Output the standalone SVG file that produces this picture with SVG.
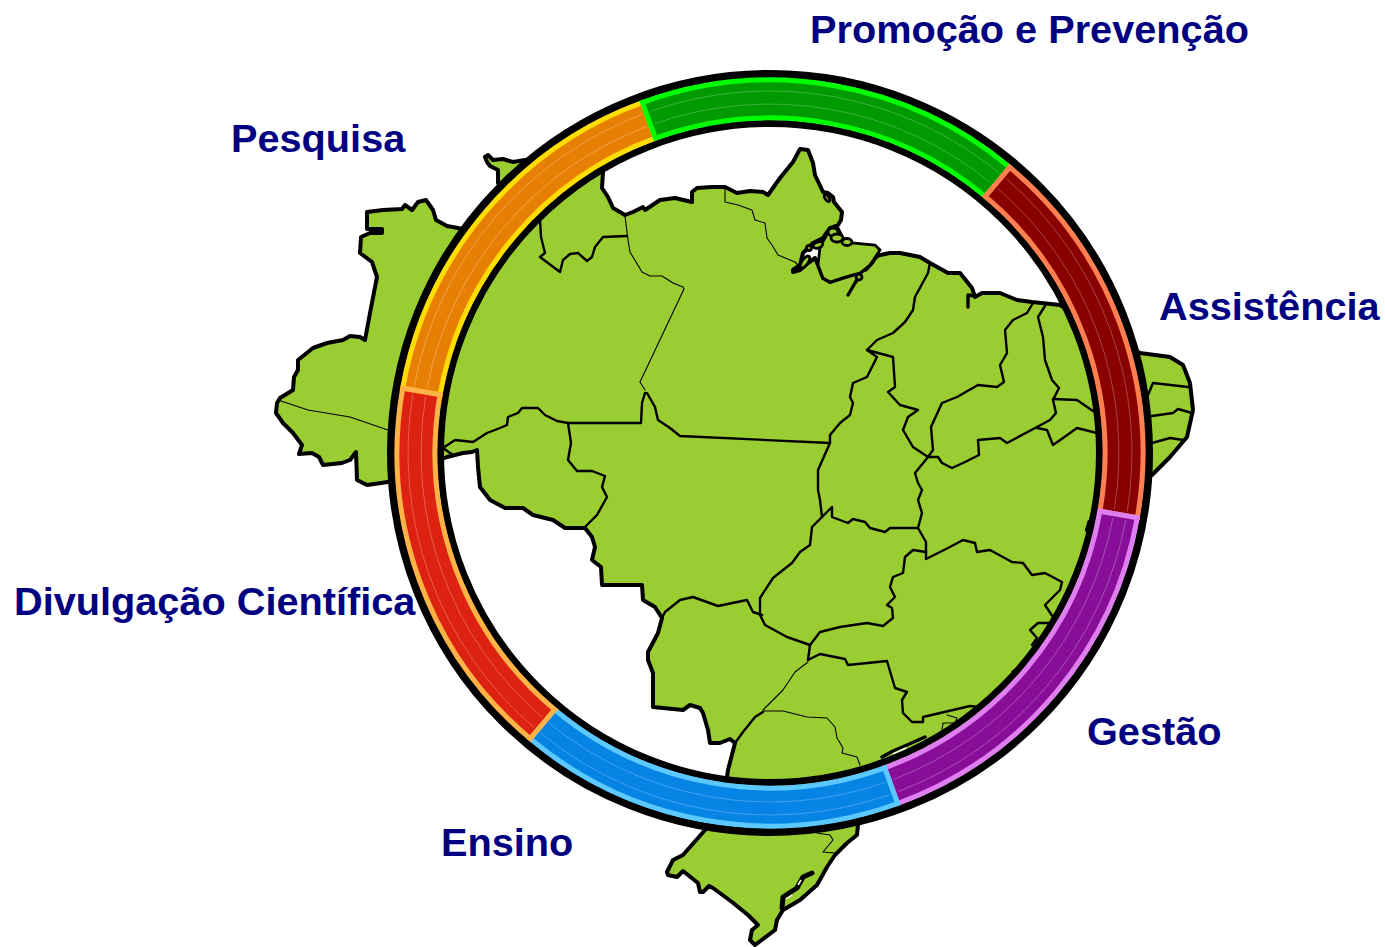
<svg xmlns="http://www.w3.org/2000/svg" xmlns:xlink="http://www.w3.org/1999/xlink" width="1385" height="947" viewBox="0 0 1385 947">
<style>
.land{fill:#9acd32;stroke:#000;stroke-width:4;stroke-linejoin:round;stroke-linecap:round}
.isl{fill:#9acd32;stroke:#000;stroke-width:2.8}
.b{fill:none;stroke:#000;stroke-width:2.4;stroke-linejoin:round;stroke-linecap:round}
.t{fill:none;stroke:#000;stroke-width:1.1;stroke-linejoin:round;stroke-linecap:round}
.h{fill:none;stroke:#000;stroke-width:3.4;stroke-linejoin:round;stroke-linecap:round}
.ring{fill:none;stroke:#000}
.band{stroke-width:5;stroke-linejoin:miter}
.fine{fill:none;stroke:#fff;stroke-opacity:.4;stroke-width:.6}
text{font-family:"Liberation Sans",Arial,sans-serif;font-weight:bold;font-size:39.7px;fill:#000080}
</style>
<defs>
<path id="fine" d="M650.4 110.3A362 362 0 0 1 999.3 171.9M654.7 122.6A349 349 0 0 1 991 182"/>
</defs>
<rect width="1385" height="947" fill="#fff"/>
<g id="map">
<path class="land" d="M388 482L367 485L357 480L356 452L350 460L342 463L323 465L319 457L312 453L299 454L302 445L293 433L283 423L276 413L277 403L280 398L293 390L294 377L298 370L298 360L313 348L327 343L343 340L350 336L360 337L365 340L370 313L377 277L372 262L360 253L361 237L370 233L382 233L382 229L367 229L367 212L383 210L402 209L405 205L412 210L418 202L426 200L433 210L436 220L447 226L458 228L475 232L505 190L498 183L498 170L490 166L487 162L485 157L488 155L493 160L503 159L513 162L525 160L603 172L602 188L608 197L613 208L625 215L633 212L643 207L645 210L660 200L675 198L692 202L692 192L697 188L712 187L725 187L737 193L750 191L763 192L768 195L780 178L793 162L800 149L808 150L813 163L815 175L823 192L828 193L833 197L834 202L842 212L841 220L838 225L830 228L823 238L813 243L803 253L800 265L793 270L793 272L800 270L808 263L815 258L818 265L823 278L830 282L842 278L852 275L860 273L870 265L876 257L880 255L890 253L900 253L920 257L930 263L948 273L960 273L972 288L975 297L982 293L1000 293L1017 300L1032 302L1060 305L1140 353L1170 357L1183 365L1190 383L1193 410L1187 437L1170 457L1152 475L1092 517L1087 530L1100 550L1065 640L1010 695L950 745L900 775L860 800L858 825L857 835L847 843L835 855L827 867L817 885L800 900L783 910L777 920L775 930L755 945L750 940L752 930L758 925L748 915L732 902L713 888L709 886L703 892L700 892L698 883L683 871L677 877L668 875L667 872L673 860L683 855L705 830L727 777L728 770L735 743L730 739L720 743L710 743L708 730L703 713L700 708L690 705L683 710L653 707L653 673L648 660L648 652L658 633L662 618L655 607L643 600L642 585L602 585L601 567L592 560L595 547L592 537L585 528L565 528L553 520L533 515L523 508L505 508L490 500L480 487L478 467L477 450L472 452L463 453L447 457Z"/>
<path class="isl" d="M838 228L830 229L820 247L818 265L823 278L830 282L842 278L852 275L860 273L870 265L880 250L875 245L852 243L843 238Z"/>
<ellipse class="isl" cx="833" cy="232" rx="5" ry="4"/>
<ellipse class="isl" cx="837" cy="238" rx="6" ry="4"/>
<ellipse class="isl" cx="847" cy="242" rx="5" ry="3.5"/>
<ellipse class="isl" cx="818" cy="245" rx="5" ry="3" transform="rotate(-20 818 245)"/>
<ellipse class="isl" cx="809" cy="248" rx="2.5" ry="2.5"/>
<ellipse class="isl" cx="805" cy="262" rx="3" ry="7" transform="rotate(35 805 262)"/>
<ellipse class="isl" cx="827" cy="198" rx="2" ry="4" transform="rotate(-35 827 198)"/>
<path class="h" d="M848 295L855 283L860 275M866 270L873 262M968 307L968 295L975 296"/>
<ellipse class="isl" cx="859" cy="277" rx="3" ry="3"/>
<path class="h" style="stroke-width:5" d="M782 908L783 897L797 888L803 877L812 873"/>
<path d="M786 899l6-4M798 885l3-5" stroke="#fff" stroke-width="1.5" fill="none"/>
<path class="h" d="M882 757L893 751L907 745L925 737M1087 530l2-8M1013 672l4-3"/>
<path d="M893 754L906 748" fill="none" stroke="#fff" stroke-width="1.4"/>
<path class="b" d="M540 220L541 237L545 253L540 257L560 272L563 260L570 254L578 253L587 261L592 257L595 247L603 237L627 236"/>
<path class="t" d="M625 216L628 240L630 252L642 272L650 276L662 276L673 283L683 287L684 289L640 382L645 390"/>
<path class="t" d="M725 187L725 202L738 205L752 210L755 220L765 223L767 238L772 245L778 255L795 262L798 265"/>
<path class="b" d="M645 393L642 403L641 423L568 423L571 443L568 460L577 471L592 471L605 476L602 487L607 497L597 515L585 527"/>
<path class="t" d="M278 400L308 410L350 417L388 430"/>
<path class="b" d="M443 448L455 440L473 442L487 433L500 428L507 425L508 417L518 413L522 408L538 408L545 415L557 421L568 423M443 448L453 455"/>
<path class="b" d="M647 393L655 407L658 420L670 428L680 436L830 443"/>
<path class="b" d="M867 350L877 357L867 377L853 383L850 397L853 403L850 415L840 423L830 435L830 443L818 470L818 490L820 500L822 517"/>
<path class="b" d="M867 350L877 340L893 333L905 322L913 310L915 297L928 273L930 263"/>
<path class="b" d="M867 350L893 357L895 387L888 392L900 405L918 410L908 417L903 430L913 447L928 457"/>
<path class="b" d="M928 457L933 450L931 427L942 403L957 397L978 385L997 387L1004 382L1000 365L1007 353L1005 330L1013 320L1027 313L1033 303"/>
<path class="b" d="M1045 306L1038 317L1043 337L1045 360L1052 380L1059 388L1053 400L1056 413L1050 420L1037 427"/>
<path class="b" d="M1053 399L1077 400L1093 411M1037 428L1047 430L1053 445L1063 438L1077 428L1097 433"/>
<path class="b" d="M1037 427L1007 443L1000 438L978 440L979 455L963 463L952 468L942 463L938 457L928 457L915 473L918 483L922 490L918 500L922 513L918 528L926 542L926 558"/>
<path class="b" d="M822 517L832 507L832 517L848 523L853 519L865 522L870 528L885 532L890 528L918 528"/>
<path class="b" d="M822 517L812 527L810 545L800 552L792 563L783 570L773 578L760 598L760 615L765 625L787 637L810 645"/>
<path class="b" d="M810 645L820 632L840 627L867 623L883 626L893 618L892 608L887 605L895 597L890 587L893 577L903 573L905 557L913 550L926 552"/>
<path class="b" d="M926 559L948 548L963 540L975 543L977 552L990 550L1012 562L1023 563L1032 575L1045 573L1062 582L1060 590L1045 605L1053 617"/>
<path class="b" d="M1050 623L1038 623L1030 630L1037 638L1032 645"/>
<path class="b" d="M662 618L665 612L680 600L693 597L718 606L747 600L753 612L762 615"/>
<path class="b" d="M810 645L808 660"/>
<path class="t" d="M808 662L795 672L783 690L763 710"/>
<path class="b" d="M735 743L743 732L755 717L763 712"/>
<path class="t" d="M763 711L783 711L807 717L827 718L835 727L837 738L843 748L842 753L857 757L860 765"/>
<path class="b" d="M808 660L820 654L845 659L848 665L887 661L895 688L907 692L902 700L903 713L912 722L923 722L923 717L970 706L978 707"/>
<path class="t" d="M947 715L957 718L955 723L943 723L942 730"/>
<path class="t" d="M817 833L830 835L833 840L823 852L835 853"/>
<path class="b" d="M1148 395L1153 383L1188 387M1152 416L1173 413L1178 409L1192 413M1152 443L1170 438L1183 440"/>
</g>
<g id="ring">
<circle class="ring" cx="770" cy="453" r="379" stroke-width="8"/>
<circle class="ring" cx="770" cy="453" r="329.5" stroke-width="7"/>
</g>
<g id="node-pesquisa">
<g transform="translate(0 1)"><path class="band" fill="#e87f05" stroke="#ffdd00" d="M402.7 387.2A373 373 0 0 1 642.4 101.5L655.4 137.2A335 335 0 0 0 440.1 393.8Z"/>
<use href="#fine" class="fine" transform="rotate(-60 770 452)"/></g>
<text x="231" y="152">Pesquisa</text>
</g>
<g id="node-promocao">
<g transform="translate(0 1)"><path class="band" fill="#009900" stroke="#00ff00" d="M642.4 101.5A373 373 0 0 1 1009.8 166.3L985.3 195.4A335 335 0 0 0 655.4 137.2Z"/>
<use href="#fine" class="fine"/></g>
<text x="810" y="43">Promoção e Prevenção</text>
</g>
<g id="node-assistencia">
<g transform="translate(0 1)"><path class="band" fill="#880000" stroke="#ff7f50" d="M1009.8 166.3A373 373 0 0 1 1137.3 516.8L1099.9 510.2A335 335 0 0 0 985.3 195.4Z"/>
<use href="#fine" class="fine" transform="rotate(60 770 452)"/></g>
<text x="1159" y="320">Assistência</text>
</g>
<g id="node-gestao">
<g transform="translate(0 1)"><path class="band" fill="#880e99" stroke="#df7fef" d="M1137.3 516.8A373 373 0 0 1 897.6 802.5L884.6 766.8A335 335 0 0 0 1099.9 510.2Z"/>
<use href="#fine" class="fine" transform="rotate(120 770 452)"/></g>
<text x="1087" y="745">Gestão</text>
</g>
<g id="node-ensino">
<g transform="translate(0 1)"><path class="band" fill="#0584e4" stroke="#5bc8ff" d="M897.6 802.5A373 373 0 0 1 530.2 737.7L554.7 708.6A335 335 0 0 0 884.6 766.8Z"/>
<use href="#fine" class="fine" transform="rotate(180 770 452)"/></g>
<text x="441" y="856">Ensino</text>
</g>
<g id="node-divulgacao">
<g transform="translate(0 1)"><path class="band" fill="#dd2211" stroke="#ffb347" d="M530.2 737.7A373 373 0 0 1 402.7 387.2L440.1 393.8A335 335 0 0 0 554.7 708.6Z"/>
<use href="#fine" class="fine" transform="rotate(240 770 452)"/></g>
<text x="14" y="615">Divulgação Científica</text>
</g>
</svg>
